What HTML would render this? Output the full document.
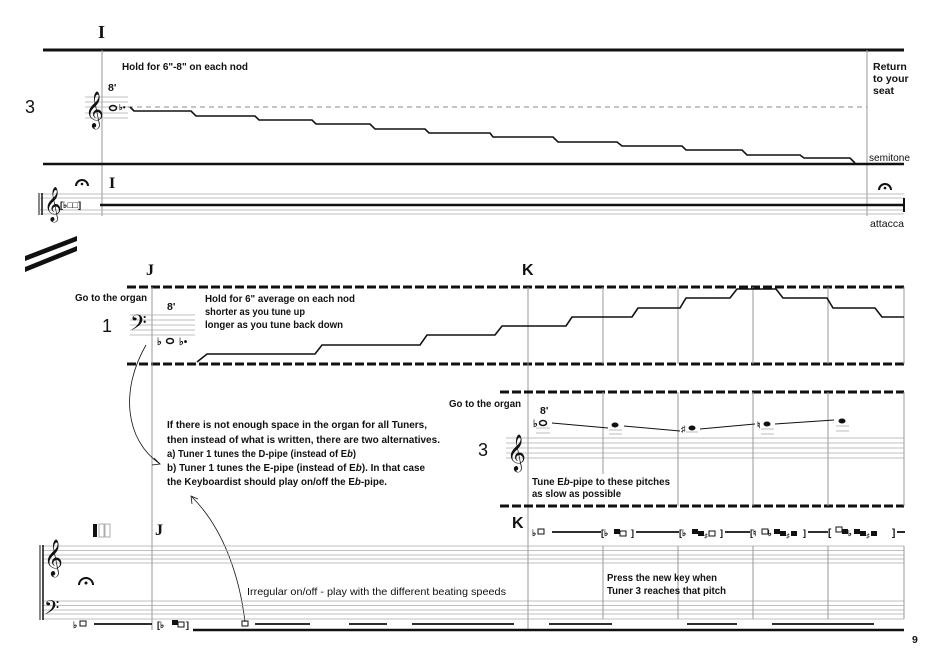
<!DOCTYPE html>
<html><head><meta charset="utf-8"><style>
html,body{margin:0;padding:0;background:#fff;}
svg{display:block;}
text{font-family:"Liberation Sans",sans-serif;font-weight:bold;fill:#111;}
.t{font-size:10.5px;}
.g{stroke:#999;stroke-width:1;fill:none;}
.s{stroke:#aaa;stroke-width:0.8;fill:none;}
.k{stroke:#111;fill:none;}
.m{font-family:"Liberation Serif",serif;font-weight:bold;}
</style></head><body>
<svg width="939" height="664" viewBox="0 0 939 664" xmlns="http://www.w3.org/2000/svg">
<text x="98" y="38" class="m" font-size="18">I</text>
<line x1="43" y1="50" x2="904" y2="50" class="k" stroke-width="3"/>
<line x1="102" y1="50" x2="102" y2="216" class="g"/>
<line x1="867" y1="50" x2="867" y2="216" class="g"/>
<text x="122" y="70" class="t" textLength="126" lengthAdjust="spacingAndGlyphs">Hold for 6"-8" on each nod</text>
<text x="108" y="91" class="t">8'</text>
<text x="25" y="113" font-size="18" style="font-weight:normal">3</text>
<g class="s"><line x1="85" y1="97" x2="128" y2="97"/><line x1="85" y1="102" x2="128" y2="102"/><line x1="85" y1="107" x2="128" y2="107"/><line x1="85" y1="113" x2="128" y2="113"/><line x1="85" y1="118" x2="128" y2="118"/></g>
<text x="85" y="120" font-size="32" style="font-weight:normal">𝄞</text>
<ellipse cx="113" cy="108" rx="3.5" ry="2.5" fill="none" stroke="#111" stroke-width="1.5"/>
<text x="119" y="110" font-size="8">♭•</text>
<line x1="128" y1="107" x2="867" y2="107" stroke="#888" stroke-width="1" stroke-dasharray="5,4"/>
<polyline class="k" stroke-width="1.6" points="130,107 134,111 191,111 196,116 255,116 259,120 312,120 316,124 370,124 375,129 425,129 429,133 490,133 493,137 553,137 558,142 617,142 622,146 682,146 686,150 742,150 747,155 800,155 804,158 850,158 855,163"/>
<text x="873" y="70" class="t">Return</text>
<text x="873" y="82" class="t">to your</text>
<text x="873" y="94" class="t">seat</text>
<text x="869" y="161" class="t" style="font-weight:normal" textLength="41" lengthAdjust="spacingAndGlyphs">semitone</text>
<line x1="43" y1="164" x2="904" y2="164" class="k" stroke-width="2.5"/>
<g class="s"><line x1="40" y1="194" x2="904" y2="194"/><line x1="40" y1="198" x2="904" y2="198"/><line x1="40" y1="210" x2="904" y2="210"/><line x1="40" y1="214" x2="904" y2="214"/></g>
<line x1="100" y1="205" x2="904" y2="205" class="k" stroke-width="2.5"/>
<line x1="39" y1="193" x2="39" y2="215" class="k" stroke-width="1"/><line x1="42" y1="193" x2="42" y2="215" class="k" stroke-width="1.5"/>
<text x="44" y="214" font-size="30" style="font-weight:normal">𝄞</text>
<text x="60" y="208" font-size="9">[♭□□]</text>
<text x="109" y="188" class="m" font-size="16">I</text>
<path d="M76,186 A6,6 0 0 1 88,186" class="k" stroke-width="2"/><circle cx="82" cy="184" r="1.3" fill="#111"/>
<path d="M879,190 A6,6 0 0 1 891,190" class="k" stroke-width="2"/><circle cx="885" cy="188" r="1.3" fill="#111"/>
<line x1="904" y1="198" x2="904" y2="212" class="k" stroke-width="2"/>
<text x="870" y="227" class="t" style="font-weight:normal" textLength="34" lengthAdjust="spacingAndGlyphs">attacca</text>
<polygon points="25,256 77,236 77,241 25,261" fill="#111"/>
<polygon points="25,267 77,246 77,251 25,272" fill="#111"/>
<text x="146" y="275" class="m" font-size="16">J</text>
<text x="522" y="275" font-size="16">K</text>
<line x1="127" y1="287" x2="904" y2="287" class="k" stroke-width="3" stroke-dasharray="9,3"/>
<line x1="127" y1="364" x2="904" y2="364" class="k" stroke-width="3" stroke-dasharray="9,3"/>
<line x1="152" y1="287" x2="152" y2="630" class="g"/>
<line x1="528" y1="287" x2="528" y2="630" class="g"/>
<g class="g"><line x1="603" y1="287" x2="603" y2="364"/><line x1="678" y1="287" x2="678" y2="364"/><line x1="753" y1="287" x2="753" y2="364"/><line x1="828" y1="287" x2="828" y2="364"/><line x1="904" y1="287" x2="904" y2="364"/></g>
<text x="75" y="301" class="t" textLength="72" lengthAdjust="spacingAndGlyphs">Go to the organ</text>
<text x="167" y="310" class="t">8'</text>
<text x="102" y="332" font-size="18" style="font-weight:normal">1</text>
<g class="s"><line x1="130" y1="315" x2="195" y2="315"/><line x1="130" y1="320" x2="195" y2="320"/><line x1="130" y1="325" x2="195" y2="325"/><line x1="130" y1="330" x2="195" y2="330"/><line x1="130" y1="335" x2="195" y2="335"/></g>
<text x="130" y="334" font-size="26" style="font-weight:normal">𝄢</text>
<text x="157" y="345" font-size="10">♭</text><ellipse cx="170" cy="341" rx="3.5" ry="2.5" fill="none" stroke="#111" stroke-width="1.5"/>
<text x="179" y="345" font-size="10">♭•</text>
<text x="205" y="302" class="t" textLength="150" lengthAdjust="spacingAndGlyphs">Hold for 6" average on each nod</text>
<text x="205" y="315" class="t" textLength="100" lengthAdjust="spacingAndGlyphs">shorter as you tune up</text>
<text x="205" y="328" class="t" textLength="138" lengthAdjust="spacingAndGlyphs">longer as you tune back down</text>
<polyline class="k" stroke-width="1.6" points="197,362 207,354 315,354 322,345 420,345 427,335 495,335 502,326 566,326 572,317 632,317 638,308 680,308 686,298 730,298 737,289 776,289 783,298 827,298 833,308 875,308 882,317 904,317"/>
<line x1="500" y1="392" x2="904" y2="392" class="k" stroke-width="3" stroke-dasharray="9,3"/>
<line x1="500" y1="506" x2="904" y2="506" class="k" stroke-width="3" stroke-dasharray="9,3"/>
<g class="g"><line x1="603" y1="392" x2="603" y2="474"/><line x1="678" y1="392" x2="678" y2="506"/><line x1="753" y1="392" x2="753" y2="506"/><line x1="828" y1="392" x2="828" y2="506"/><line x1="904" y1="392" x2="904" y2="506"/></g>
<text x="449" y="407" class="t" textLength="72" lengthAdjust="spacingAndGlyphs">Go to the organ</text>
<text x="540" y="414" class="t">8'</text>
<text x="478" y="456" font-size="18" style="font-weight:normal">3</text>
<g class="s"><line x1="506" y1="438" x2="904" y2="438"/><line x1="506" y1="443" x2="904" y2="443"/><line x1="506" y1="448" x2="904" y2="448"/><line x1="506" y1="453" x2="904" y2="453"/><line x1="506" y1="458" x2="904" y2="458"/></g>
<text x="507" y="463" font-size="32" style="font-weight:normal">𝄞</text>
<text x="533" y="427" font-size="10">♭</text><ellipse cx="543" cy="423" rx="3.5" ry="2.5" fill="none" stroke="#111" stroke-width="1.5"/>
<ellipse cx="615" cy="425" rx="3.5" ry="2.5" fill="#111"/>
<text x="681" y="432" font-size="9">♯</text><ellipse cx="692" cy="428" rx="3.5" ry="2.5" fill="#111"/>
<text x="757" y="428" font-size="9">♮</text><ellipse cx="767" cy="424" rx="3.5" ry="2.5" fill="#111"/>
<ellipse cx="842" cy="421" rx="3.5" ry="2.5" fill="#111"/>
<g class="s"><line x1="536" y1="428" x2="550" y2="428"/><line x1="536" y1="433" x2="550" y2="433"/><line x1="609" y1="430" x2="622" y2="430"/><line x1="609" y1="434" x2="622" y2="434"/><line x1="686" y1="432" x2="698" y2="432"/><line x1="761" y1="429" x2="774" y2="429"/><line x1="761" y1="434" x2="774" y2="434"/><line x1="836" y1="426" x2="849" y2="426"/><line x1="836" y1="431" x2="849" y2="431"/></g>
<polyline class="k" stroke-width="1" points="552,423 608,428"/><polyline class="k" stroke-width="1" points="624,426 680,431"/><polyline class="k" stroke-width="1" points="700,429 755,424"/><polyline class="k" stroke-width="1" points="775,424 834,420"/>
<text x="532" y="485" class="t" textLength="138" lengthAdjust="spacingAndGlyphs">Tune E<tspan font-style="italic">b</tspan>-pipe to these pitches</text>
<text x="532" y="497" class="t" textLength="89" lengthAdjust="spacingAndGlyphs">as slow as possible</text>
<text x="167" y="428" class="t" textLength="260" lengthAdjust="spacingAndGlyphs">If there is not enough space in the organ for all Tuners,</text>
<text x="167" y="443" class="t" textLength="273" lengthAdjust="spacingAndGlyphs">then instead of what is written, there are two alternatives.</text>
<text x="167" y="457" class="t" textLength="189" lengthAdjust="spacingAndGlyphs">a) Tuner 1 tunes the D-pipe (instead of E<tspan font-style="italic">b</tspan>)</text>
<text x="167" y="471" class="t" textLength="258" lengthAdjust="spacingAndGlyphs">b) Tuner 1 tunes the E-pipe (instead of E<tspan font-style="italic">b</tspan>). In that case</text>
<text x="167" y="485" class="t" textLength="220" lengthAdjust="spacingAndGlyphs">the Keyboardist should play on/off the E<tspan font-style="italic">b</tspan>-pipe.</text>
<path d="M146,345 C120,390 125,440 160,464" class="k" stroke-width="0.8"/>
<path d="M154,458 L160,464 L152,465" class="k" stroke-width="0.8"/>
<path d="M245,622 C240,580 225,530 192,497" class="k" stroke-width="0.8"/>
<path d="M192,504 L191,496 L198,499" class="k" stroke-width="0.8"/>
<rect x="93" y="524" width="4" height="13" fill="#111"/>
<rect x="99" y="524" width="5" height="13" fill="none" stroke="#999" stroke-width="0.8"/>
<rect x="105" y="524" width="5" height="13" fill="none" stroke="#999" stroke-width="0.8"/>
<text x="155" y="535" class="m" font-size="16">J</text>
<text x="512" y="528" font-size="16">K</text>
<g class="s"><line x1="42" y1="546" x2="904" y2="546"/><line x1="42" y1="550.5" x2="904" y2="550.5"/><line x1="42" y1="555" x2="904" y2="555"/><line x1="42" y1="559" x2="904" y2="559"/><line x1="42" y1="563" x2="904" y2="563"/>
<line x1="42" y1="601" x2="904" y2="601"/><line x1="42" y1="605.5" x2="904" y2="605.5"/><line x1="42" y1="610" x2="904" y2="610"/><line x1="42" y1="614" x2="904" y2="614"/><line x1="42" y1="619" x2="904" y2="619"/></g>
<line x1="40" y1="545" x2="40" y2="620" class="k" stroke-width="1"/><line x1="43" y1="545" x2="43" y2="620" class="k" stroke-width="1.5"/>
<g class="g"><line x1="603" y1="546" x2="603" y2="619"/><line x1="678" y1="546" x2="678" y2="619"/><line x1="753" y1="546" x2="753" y2="619"/><line x1="828" y1="546" x2="828" y2="619"/><line x1="904" y1="546" x2="904" y2="619"/></g>
<text x="44" y="568" font-size="32" style="font-weight:normal">𝄞</text>
<text x="44" y="618" font-size="24" style="font-weight:normal">𝄢</text>
<path d="M79,585 A7,7 0 0 1 93,585" class="k" stroke-width="2"/><circle cx="86" cy="583" r="1.5" fill="#111"/>
<text x="247" y="595" class="t" style="font-weight:normal" textLength="259" lengthAdjust="spacingAndGlyphs">Irregular on/off - play with the different beating speeds</text>
<text x="607" y="581" class="t" textLength="110" lengthAdjust="spacingAndGlyphs">Press the new key when</text>
<text x="607" y="594" class="t" textLength="119" lengthAdjust="spacingAndGlyphs">Tuner 3 reaches that pitch</text>
<text x="73" y="628" font-size="9">♭</text><rect x="80" y="621" width="6" height="5" fill="none" stroke="#111"/>
<line x1="94" y1="624" x2="152" y2="624" class="k" stroke-width="1.8"/>
<text x="157" y="628" font-size="9">[♭</text><rect x="172" y="620" width="6" height="5" fill="#111"/><rect x="178" y="622" width="6" height="5" fill="none" stroke="#111"/><text x="186" y="628" font-size="9">]</text>
<line x1="193" y1="630" x2="904" y2="630" class="k" stroke-width="2.5"/>
<rect x="242" y="621" width="6" height="5" fill="none" stroke="#111"/>
<g class="k" stroke-width="1.8"><line x1="255" y1="624" x2="310" y2="624"/><line x1="349" y1="624" x2="387" y2="624"/><line x1="412" y1="624" x2="514" y2="624"/><line x1="549" y1="624" x2="612" y2="624"/><line x1="687" y1="624" x2="737" y2="624"/><line x1="772" y1="624" x2="874" y2="624"/></g>
<text x="532" y="536" font-size="9">♭</text><rect x="538" y="529" width="6" height="5" fill="none" stroke="#111"/>
<line x1="552" y1="532" x2="601" y2="532" class="k" stroke-width="1.8"/>
<text x="601" y="536" font-size="9">[♭</text><rect x="614" y="529" width="6" height="5" fill="#111"/><rect x="620" y="531" width="6" height="5" fill="none" stroke="#111"/><text x="631" y="536" font-size="9">]</text>
<line x1="636" y1="532" x2="679" y2="532" class="k" stroke-width="1.8"/>
<text x="679" y="536" font-size="9">[♭</text><rect x="692" y="529" width="6" height="5" fill="#111"/><rect x="698" y="531" width="6" height="5" fill="#111"/><text x="704" y="538" font-size="7">♯</text><rect x="709" y="531" width="6" height="5" fill="none" stroke="#111"/><text x="720" y="536" font-size="9">]</text>
<line x1="725" y1="532" x2="750" y2="532" class="k" stroke-width="1.8"/>
<text x="750" y="536" font-size="9">[♮</text><rect x="762" y="529" width="6" height="5" fill="none" stroke="#111"/><text x="768" y="536" font-size="8">♭</text><rect x="774" y="529" width="6" height="5" fill="#111"/><rect x="780" y="531" width="6" height="5" fill="#111"/><text x="786" y="538" font-size="7">♯</text><rect x="791" y="531" width="6" height="5" fill="#111"/><text x="803" y="536" font-size="9">]</text>
<line x1="808" y1="532" x2="828" y2="532" class="k" stroke-width="1.8"/>
<text x="828" y="536" font-size="10">[</text><rect x="836" y="527" width="6" height="5" fill="none" stroke="#111"/><rect x="842" y="529" width="6" height="5" fill="#111"/><text x="848" y="536" font-size="8">♭</text><rect x="854" y="529" width="6" height="5" fill="#111"/><rect x="860" y="531" width="6" height="5" fill="#111"/><text x="866" y="538" font-size="7">♯</text><rect x="871" y="531" width="6" height="5" fill="#111"/><text x="892" y="536" font-size="10">]</text>
<line x1="897" y1="532" x2="905" y2="532" class="k" stroke-width="1.8"/>
<text x="912" y="643" class="t">9</text>
</svg>
</body></html>
